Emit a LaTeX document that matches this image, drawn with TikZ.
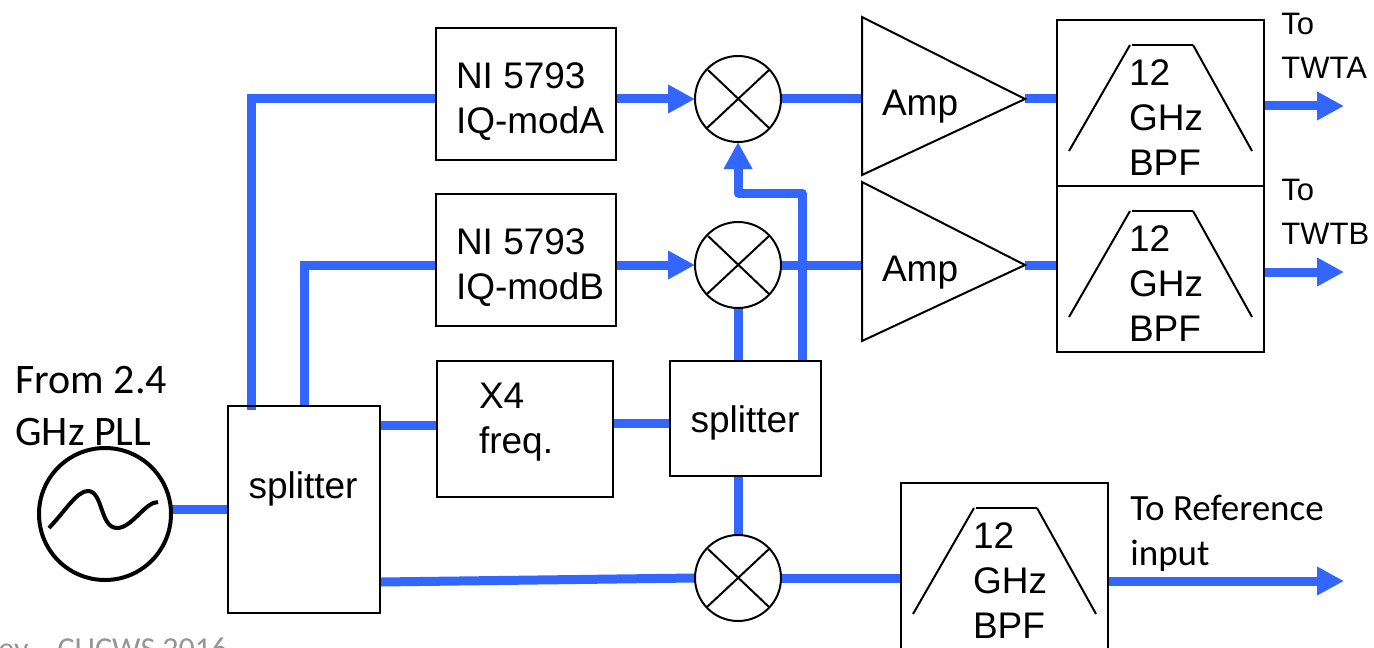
\documentclass[tikz,border=0pt]{standalone}
\usepackage{fontspec}
\setmainfont{Liberation Sans}
\newfontfamily\calib{Carlito}
\usetikzlibrary{arrows.meta,backgrounds,calc}
\definecolor{sigblue}{RGB}{51,102,255}
\definecolor{foot}{RGB}{150,150,150}
\tikzset{
 x=0.5pt,y=-0.5pt,
 blk/.style={draw=black,line width=1pt,inner sep=0pt,outer sep=0pt},
 sized/.style 2 args={minimum width=#1*0.5pt,minimum height=#2*0.5pt},
 arial/.style={font=\fontsize{18.5}{22.5}\selectfont,align=left,inner sep=0pt,outer sep=0pt},
 twt/.style={font=\fontsize{15.5}{22}\selectfont,anchor=west,align=left,inner sep=0pt},
 cal/.style={font=\calib\fontsize{18.5}{22.5}\selectfont,anchor=west,align=left,inner sep=0pt},
 mixer/.style={circle,draw=black,line width=1pt,minimum size=43pt,inner sep=0pt,outer sep=0pt},
 sig/.style={draw=sigblue,line width=4.5pt},
 sigarrow/.style={sig,-{Triangle[length=13.5pt,width=13.5pt]}},
 filt/.style={draw=black,line width=1pt},
}
\begin{document}
\begin{tikzpicture}
\useasboundingbox (0,0) rectangle (1374,647);
\clip (0,0) rectangle (1374,647);
% boxes
\node[blk,sized={180}{132}] (nia) at (526,94) {};
\node[arial,anchor=west] (nial) at (456,102) {NI 5793\\IQ-modA};
\node[blk,sized={180}{132}] (nib) at (526,260) {};
\node[arial,anchor=west] (nibl) at (456,268) {NI 5793\\IQ-modB};
\node[blk,sized={176}{136}] (x4) at (525,429) {};
\node[arial,anchor=west] (x4l) at (479,422) {X4\\freq.};
\node[blk,sized={152}{207}] (spa) at (304,509.5) {};
\node[arial] (spal) at (303,489) {splitter};
\node[blk,sized={151}{115}] (spb) at (745.5,418.5) {};
\node[arial] (spbl) at (745,423) {splitter};
% mixers
\foreach \n/\y in {mixa/99,mixb/265,mixc/578}{
 \node[mixer] (\n) at (738,\y) {};
 \draw[line width=1pt] ($(\n)+(-30,-29)$) -- ($(\n)+(31,29)$);
 \draw[line width=1pt] ($(\n)+(31,-29)$) -- ($(\n)+(-31,29)$);
}
% amplifiers
\coordinate (ampatip) at (1025,99);
\coordinate (ampbtip) at (1025,265);
\coordinate (ampatop) at (862,17);
\coordinate (ampabot) at (862,175);
\coordinate (ampbtop) at (862,182);
\coordinate (ampbbot) at (862,341);
\draw[line width=1pt,line join=miter] (ampatop) -- (ampatip) -- (ampabot) -- cycle;
\draw[line width=1pt,line join=miter] (ampbtop) -- (ampbtip) -- (ampbbot) -- cycle;
\node[arial,anchor=west] (ampal) at (882,107) {Amp};
\node[arial,anchor=west] (ampbl) at (882,273) {Amp};
% filters
\node[blk,sized={207}{166}] (bpa) at (1160.5,103) {};
\node[blk,sized={207}{166}] (bpb) at (1160.5,269) {};
\node[blk,sized={207}{170}] (bpc) at (1004.5,568) {};
\foreach \b/\x/\y in {bpa/1057/20,bpb/1057/186,bpc/901/483}{
 \draw[filt] (\x+12,\y+131) -- (\x+73,\y+25);
 \draw[filt] (\x+75,\y+25) -- (\x+136,\y+25);
 \draw[filt] (\x+136,\y+25) -- (\x+195,\y+131);
}
\node[arial,anchor=west] (bpal) at (1129,118) {12\\GHz\\BPF};
\node[arial,anchor=west] (bpbl) at (1129,284) {12\\GHz\\BPF};
\node[arial,anchor=west] (bpcl) at (973,581) {12\\GHz\\BPF};
% oscillator
\node[circle,draw=black,line width=2pt,minimum size=66pt,inner sep=0pt,outer sep=0pt] (osc) at (105,514) {};
\draw[line width=2pt] (49,528) .. controls (66,510) and (77,491) .. (88,491)
  .. controls (103,491) and (100,528) .. (117,528)
  .. controls (132,528) and (145,502) .. (158,502);
% labels
\node[cal,font=\calib\fontsize{21}{26}\selectfont] (pll) at (15,406) {From 2.4\\GHz PLL};
\node[twt] (twa) at (1281,46) {To\\TWTA};
\node[twt] (twb) at (1281,212) {To\\TWTB};
\node[cal] (refl) at (1130,533) {To Reference\\input};
\node[font=\calib\fontsize{16}{18}\selectfont,text=foot,anchor=base west,inner sep=0pt] (footer) at (-2,659) {ey \ \ \ CUCWS 2016};
\coordinate (outa) at (1344,106);
\coordinate (outb) at (1344,272);
\coordinate (outc) at (1344,581);
% connectors
\begin{scope}[on background layer]
\draw[sig] (spa.north -| 251,0) ++(0,4) -- (251,99) -- (nia.west |- mixa);
\draw[sig] (spa.north -| 304,0) -- (304,265) -- (nib.west |- mixb);
\draw[sigarrow] (nia.east |- mixa) -- (mixa.west);
\draw[sigarrow] (nib.east |- mixb) -- (mixb.west);
\draw[sig] (mixa.east) -- (ampatop |- mixa);
\draw[sig] (mixb.east) -- (ampbtop |- mixb);
\draw[sig] (ampatip) -- (bpa.west |- ampatip);
\draw[sig] (ampbtip) -- (bpb.west |- ampbtip);
\draw[sigarrow] (bpa.east |- outa) -- (outa);
\draw[sigarrow] (bpb.east |- outb) -- (outb);
\draw[sigarrow] (bpc.east |- outc) -- (outc);
\draw[sig] (mixc.east) -- (bpc.west |- mixc);
\draw[sig] (osc.east |- 0,509) -- (spa.west |- 0,509);
\draw[sig] (spa.east |- 0,425) -- (x4.west |- 0,425);
\draw[sig] (x4.east |- 0,423) -- (spb.west |- 0,423);
\draw[sig] (spa.east |- 0,582) -- (mixc.west);
\draw[sig] (mixb.south) -- (spb.north -| mixb);
\draw[sig] (spb.south -| mixc) -- (mixc.north);
\draw[sigarrow,line join=round] (spb.north -| 802,0) -- (802,193) -- (738,193) -- (mixa.south);
\end{scope}
\end{tikzpicture}
\end{document}
